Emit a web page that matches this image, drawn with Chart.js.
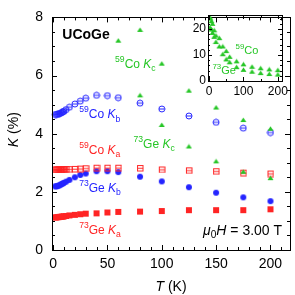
<!DOCTYPE html>
<html>
<head>
<meta charset="utf-8">
<script src="https://cdn.jsdelivr.net/npm/chart.js@4"></script>
<style>
  body { margin: 0; background: #fff; }
  #wrap { position: relative; width: 295px; height: 295px; }
  #main { position: absolute; left: 0; top: 0; }
  #inset { position: absolute; left: 185px; top: 0; }
</style>
</head>
<body>
<div id="wrap">
  <canvas id="main" width="295" height="295"></canvas>
  <canvas id="inset" width="110" height="100"></canvas>
</div>
<script>
// temperatures (K) for the a/b measurements
var T = [2, 3, 4, 5, 6, 7, 8, 9, 10, 12, 15, 20, 25, 30, 40, 50, 60, 80, 100, 125, 150, 175, 200];
var coKb = [4.66, 4.66, 4.67, 4.68, 4.69, 4.71, 4.73, 4.75, 4.77, 4.83, 4.91, 5.02, 5.12, 5.22, 5.32, 5.31, 5.24, 5.05, 4.85, 4.61, 4.39, 4.19, 4.04];
var coKa = [2.77, 2.77, 2.77, 2.77, 2.77, 2.77, 2.77, 2.78, 2.78, 2.78, 2.78, 2.79, 2.80, 2.81, 2.83, 2.83, 2.83, 2.82, 2.77, 2.74, 2.71, 2.66, 2.63];
var geKb = [2.19, 2.19, 2.20, 2.21, 2.23, 2.25, 2.27, 2.29, 2.31, 2.35, 2.41, 2.50, 2.58, 2.63, 2.71, 2.71, 2.68, 2.52, 2.36, 2.16, 1.97, 1.81, 1.68];
var geKa = [1.12, 1.12, 1.13, 1.13, 1.14, 1.14, 1.15, 1.15, 1.16, 1.17, 1.19, 1.21, 1.23, 1.25, 1.26, 1.29, 1.31, 1.32, 1.34, 1.37, 1.37, 1.37, 1.40];
// c-axis (also shown in the inset)
var Tc = [2, 4, 7, 10, 15, 20, 30, 40, 50, 60, 80, 100, 125, 150, 175, 200];
var coKc = [24.5, 24.0, 23.0, 22.0, 19.5, 17.5, 16.5, 13.3, 11.5, 9.3, 7.57, 6.41, 5.48, 4.90, 4.47, 4.17];
var geKc = [20.5, 20.3, 19.8, 18.5, 17.0, 15.0, 13.3, 10.3, 8.3, 7.2, 5.32, 4.30, 3.56, 3.05, 2.69, 2.47];
// tick labels
var xTicks = [0, 50, 100, 150, 200];
var yTicks = [0, 2, 4, 6, 8];
var insetXTicks = [0, 100, 200];
var insetYTicks = [0, 10, 20];

var RED = '#ff2424', BLUE = '#2424ff', GREEN = '#26c626';
var FONT = '"Liberation Sans", Arial, sans-serif';

function pts(xs, ys) { return xs.map(function (x, i) { return {x: x, y: ys[i]}; }); }
function fixTicks(list) { return function (s) { s.ticks = list.map(function (v) { return {value: v}; }); }; }

function marker(w, h, draw) {
  var c = document.createElement('canvas');
  c.width = w; c.height = h;
  draw(c.getContext('2d'));
  return c;
}
var openCircle = marker(8, 8, function (g) {
  g.strokeStyle = BLUE; g.lineWidth = 1;
  g.beginPath(); g.arc(4, 4, 3, 0, Math.PI * 2); g.stroke();
  g.beginPath(); g.moveTo(1, 4); g.lineTo(7, 4); g.stroke();
});
var openSquare = marker(8, 8, function (g) {
  g.strokeStyle = RED; g.lineWidth = 1;
  g.strokeRect(1.5, 1.5, 5.5, 5.5);
  g.beginPath(); g.moveTo(1.5, 4.25); g.lineTo(7, 4.25); g.stroke();
});
var dot = marker(8, 8, function (g) {
  g.fillStyle = BLUE; g.beginPath(); g.arc(4, 4, 3, 0, Math.PI * 2); g.fill();
});
var square = marker(8, 8, function (g) {
  g.fillStyle = RED; g.fillRect(1, 1, 6, 6);
});
var tri = marker(7, 6, function (g) {
  g.fillStyle = GREEN; g.beginPath(); g.moveTo(3.5, 0.5); g.lineTo(6.5, 5); g.lineTo(0.5, 5); g.closePath(); g.fill();
});

function drawRich(ctx, x, y, parts, size, color) {
  var cx = x;
  parts.forEach(function (p) {
    var fs = size, dy = 0;
    if (p.sup) { fs = size * 0.72; dy = -size * 0.42; }
    if (p.sub) { fs = size * 0.72; dy = size * 0.34; }
    ctx.font = (p.it ? 'italic ' : '') + (p.b ? 'bold ' : '') + fs + 'px ' + FONT;
    ctx.fillStyle = color; ctx.textBaseline = 'middle'; ctx.textAlign = 'left';
    ctx.fillText(p.t, cx, y + dy);
    cx += ctx.measureText(p.t).width;
  });
  return cx - x;
}
function richWidth(ctx, parts, size) {
  var w = 0;
  parts.forEach(function (p) {
    var fs = (p.sup || p.sub) ? size * 0.72 : size;
    ctx.font = (p.it ? 'italic ' : '') + (p.b ? 'bold ' : '') + fs + 'px ' + FONT;
    w += ctx.measureText(p.t).width;
  });
  return w;
}

// box + inward ticks on all four sides, plus text labels placed at data coordinates
var decor = {
  id: 'decor',
  afterDraw: function (chart, args, o) {
    var ctx = chart.ctx, a = chart.chartArea, xs = chart.scales.x, ys = chart.scales.y;
    ctx.save();
    ctx.strokeStyle = '#000'; ctx.lineWidth = 1;
    ctx.strokeRect(Math.round(a.left) + 0.5, Math.round(a.top) + 0.5, Math.round(a.right - a.left), Math.round(a.bottom - a.top));
    function isMajor(v, m) { return Math.abs(v / m - Math.round(v / m)) < 1e-6; }
    var i, v, p, len;
    for (i = Math.ceil(xs.min / o.xMinor); (v = i * o.xMinor) <= xs.max + 1e-9; i++) {
      p = Math.round(xs.getPixelForValue(v)) + 0.5;
      len = isMajor(v, o.xMajor) ? o.maj : o.min;
      ctx.beginPath();
      ctx.moveTo(p, a.bottom); ctx.lineTo(p, a.bottom - len);
      ctx.moveTo(p, a.top); ctx.lineTo(p, a.top + len);
      ctx.stroke();
    }
    for (i = Math.ceil(ys.min / o.yMinor); (v = i * o.yMinor) <= ys.max + 1e-9; i++) {
      p = Math.round(ys.getPixelForValue(v)) + 0.5;
      len = isMajor(v, o.yMajor) ? o.maj : o.min;
      ctx.beginPath();
      ctx.moveTo(a.left, p); ctx.lineTo(a.left + len, p);
      ctx.moveTo(a.right, p); ctx.lineTo(a.right - len, p);
      ctx.stroke();
    }
    (o.labels || []).forEach(function (l) {
      drawRich(ctx, xs.getPixelForValue(l.x), ys.getPixelForValue(l.y), l.parts, l.s, l.c);
    });
    if (o.xTitle) {
      var w = richWidth(ctx, o.xTitle, 14);
      drawRich(ctx, (a.left + a.right) / 2 - w / 2, 287, o.xTitle, 14, '#000');
    }
    if (o.yTitle) {
      var wy = richWidth(ctx, o.yTitle, 14);
      ctx.translate(14, (a.top + a.bottom) / 2 - 4);
      ctx.rotate(-Math.PI / 2);
      drawRich(ctx, -wy / 2, 0, o.yTitle, 14, '#000');
    }
    ctx.restore();
  }
};

var clipTop = {left: 6, top: 0, right: 0, bottom: 6};

new Chart(document.getElementById('main').getContext('2d'), {
  type: 'scatter',
  data: {
    datasets: [
      {data: pts(Tc, coKc), pointStyle: tri, clip: clipTop},
      {data: pts(Tc, geKc), pointStyle: tri, clip: clipTop},
      {data: pts(T, coKb), pointStyle: openCircle, clip: clipTop},
      {data: pts(T, coKa), pointStyle: openSquare, clip: clipTop},
      {data: pts(T, geKb), pointStyle: dot, clip: clipTop},
      {data: pts(T, geKa), pointStyle: square, clip: clipTop}
    ]
  },
  options: {
    responsive: false,
    animation: false,
    layout: {padding: {left: 0, top: 7, right: 5, bottom: 0}},
    scales: {
      x: {
        min: -1, max: 218,
        grid: {display: false, drawTicks: false},
        border: {display: false},
        afterBuildTicks: fixTicks(xTicks),
        afterFit: function (s) { s.height = 45; },
        ticks: {autoSkip: false, maxRotation: 0, padding: 6, color: '#000', font: {family: FONT, size: 14}}
      },
      y: {
        min: 0, max: 8,
        grid: {display: false, drawTicks: false},
        border: {display: false},
        afterBuildTicks: fixTicks(yTicks),
        afterFit: function (s) { s.width = 52; },
        ticks: {padding: 9, color: '#000', font: {family: FONT, size: 14}}
      }
    },
    plugins: {
      legend: {display: false},
      tooltip: {enabled: false},
      decor: {
        xMinor: 10, xMajor: 50, yMinor: 0.5, yMajor: 2, maj: 5, min: 3,
        xTitle: [{t: 'T', it: 1}, {t: ' (K)'}],
        yTitle: [{t: 'K', it: 1}, {t: ' (%)'}],
        labels: [
          {parts: [{t: 'UCoGe', b: 1}], x: 8.5, y: 7.4, s: 14, c: '#000'},
          {parts: [{t: '59', sup: 1}, {t: 'Co '}, {t: 'K', it: 1}, {t: 'c', sub: 1}], x: 57, y: 6.38, s: 12, c: GREEN},
          {parts: [{t: '59', sup: 1}, {t: 'Co '}, {t: 'K', it: 1}, {t: 'b', sub: 1}], x: 24, y: 4.64, s: 12, c: BLUE},
          {parts: [{t: '73', sup: 1}, {t: 'Ge '}, {t: 'K', it: 1}, {t: 'c', sub: 1}], x: 74, y: 3.62, s: 12, c: GREEN},
          {parts: [{t: '59', sup: 1}, {t: 'Co '}, {t: 'K', it: 1}, {t: 'a', sub: 1}], x: 24, y: 3.42, s: 12, c: RED},
          {parts: [{t: '73', sup: 1}, {t: 'Ge '}, {t: 'K', it: 1}, {t: 'b', sub: 1}], x: 24, y: 2.1, s: 12, c: BLUE},
          {parts: [{t: '73', sup: 1}, {t: 'Ge '}, {t: 'K', it: 1}, {t: 'a', sub: 1}], x: 24, y: 0.68, s: 12, c: RED},
          {parts: [{t: 'μ', it: 1}, {t: '0', sub: 1}, {t: 'H', it: 1}, {t: ' = 3.00 T'}], x: 138, y: 0.66, s: 14, c: '#000'}
        ]
      }
    }
  },
  plugins: [decor]
});

new Chart(document.getElementById('inset').getContext('2d'), {
  type: 'scatter',
  data: {
    datasets: [
      {data: pts(Tc, coKc), pointStyle: tri},
      {data: pts(Tc, geKc), pointStyle: tri}
    ]
  },
  options: {
    responsive: false,
    animation: false,
    layout: {padding: {left: 0, top: 15, right: 13, bottom: 0}},
    scales: {
      x: {
        min: -3, max: 212,
        grid: {display: false, drawTicks: false},
        border: {display: false},
        afterBuildTicks: fixTicks(insetXTicks),
        afterFit: function (s) { s.height = 19; },
        ticks: {autoSkip: false, maxRotation: 0, padding: 3, color: '#000', font: {family: FONT, size: 12}}
      },
      y: {
        min: 0, max: 25.4,
        grid: {display: false, drawTicks: false},
        border: {display: false},
        afterBuildTicks: fixTicks(insetYTicks),
        afterFit: function (s) { s.width = 23; },
        ticks: {autoSkip: false, padding: 2, color: '#000', font: {family: FONT, size: 12}}
      }
    },
    plugins: {
      legend: {display: false},
      tooltip: {enabled: false},
      decor: {
        xMinor: 50, xMajor: 100, yMinor: 2, yMajor: 10, maj: 4, min: 2,
        labels: [
          {parts: [{t: '59', sup: 1}, {t: 'Co'}], x: 77, y: 11.5, s: 11, c: GREEN},
          {parts: [{t: '73', sup: 1}, {t: 'Ge'}], x: 10, y: 3.7, s: 11, c: GREEN}
        ]
      }
    }
  },
  plugins: [decor]
});
</script>
</body>
</html>
